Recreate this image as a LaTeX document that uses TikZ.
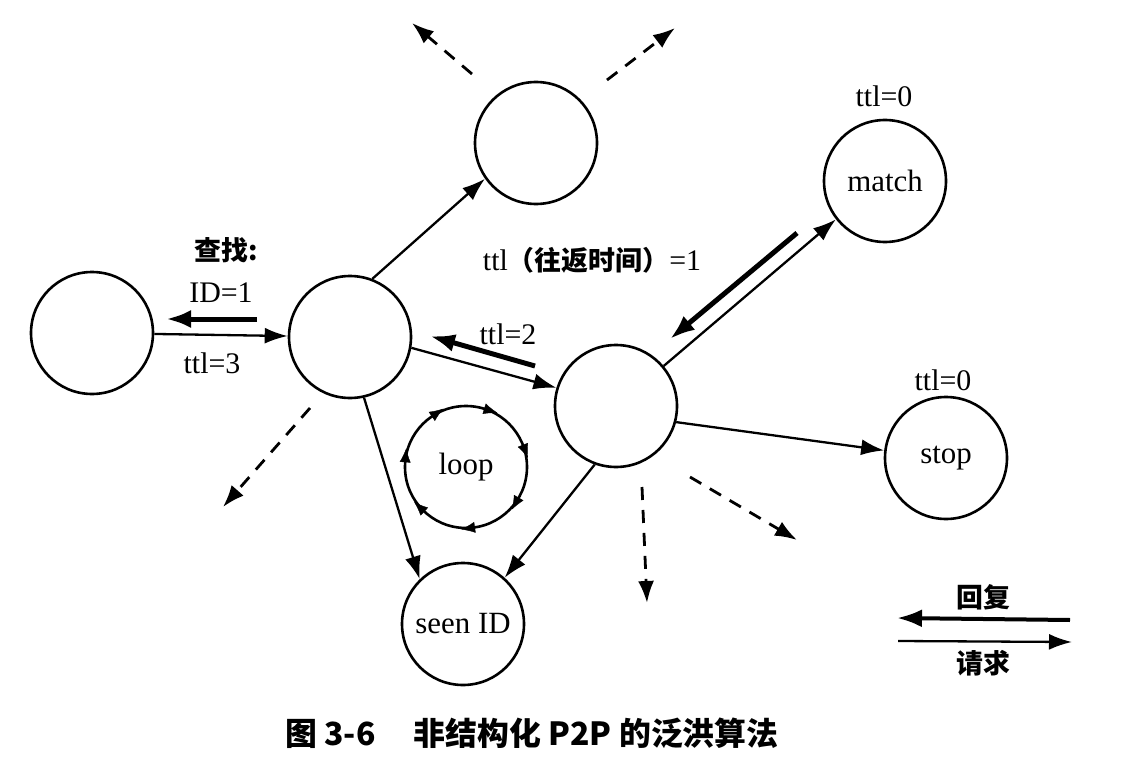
\documentclass[tikz,border=0pt]{standalone}
\usepackage{fontspec}
\setmainfont{Liberation Serif}
\newfontfamily\cjk{Noto Sans CJK SC}
\usetikzlibrary{arrows.meta,decorations.markings}
\tikzset{
  peer/.style={circle,draw,line width=2.6bp,minimum size=122bp,inner sep=0pt,font=\fontsize{31}{32}\selectfont},
  query/.style={-{Latex[length=23bp,width=16bp]},line width=2.3bp},
  reply/.style={-{Latex[length=25bp,width=18bp]},line width=5bp},
  flood/.style={-{Latex[length=22bp,width=16bp]},line width=2.8bp,dash pattern=on 13bp off 10bp},
  lbl/.style={font=\fontsize{30}{31}\selectfont,inner sep=0pt},
  zh/.style={font=\cjk\bfseries\fontsize{27}{28}\selectfont,inner sep=0pt},
}
\begin{document}
\begin{tikzpicture}[x=1bp,y=-1bp]
  \useasboundingbox (0,0) rectangle (1122,774);
%%
  % Node: origin
  \node[peer] (src) at (92,333) {};
  % Node: first hop
  \node[peer] (hopA) at (350,337) {};
  % Node: upper neighbour
  \node[peer] (up) at (536,143) {};
  % Node: second hop
  \node[peer] (hopB) at (616,406) {};
  % Node: match
  \node[peer] (match) at (885,181) {match};
  % Node: stop
  \node[peer] (stop) at (946,458) {stop};
  % Node: seen ID
  \node[peer] (seen) at (463,624) {seen ID};
  % Node: loop
  \node[peer] (loop) at (466,467) {loop};
  \path[postaction={decorate},decoration={markings,
    mark=between positions 0.059 and 0.95 step 0.142857 with {\arrow{Latex[reversed,length=14bp,width=11bp]}}}]
    (loop.center) circle[radius=61bp];
%%
  % Edge: src -> hopA
  \draw[query] (src) -- (hopA);
  % Edge: hopA -> up
  \draw[query] (hopA.69) -- (up.215);
  % Edge: hopA -> hopB
  \draw[query] (hopA.350) -- (hopB.163);
  % Edge: hopA -> seen
  \draw[query] (hopA.283) -- (seen.134);
  % Edge: hopB -> seen
  \draw[query] (hopB.250) -- (seen.48);
  % Edge: hopB -> match
  \draw[query] (hopB.40) -- (match.218);
  % Edge: hopB -> stop
  \draw[query] (hopB.345) -- (stop.173);
%%
  % replies
  \coordinate (r1s) at (257,319);
  \coordinate (r1e) at (166,319);
  \draw[reply] (r1s) -- (r1e);
  \coordinate (r2s) at (535,366);
  \coordinate (r2e) at (430,336);
  \draw[reply] (r2s) -- (r2e);
  \coordinate (r3s) at (797,233);
  \coordinate (r3e) at (670,339);
  \draw[reply] (r3s) -- (r3e);
%%
  % flooding on
  \coordinate (f1s) at (472,74);   \coordinate (f1e) at (412,23);
  \coordinate (f2s) at (607,80);   \coordinate (f2e) at (675,28);
  \coordinate (f3s) at (310,408);  \coordinate (f3e) at (223,507);
  \coordinate (f4s) at (642,487);  \coordinate (f4e) at (647,603);
  \coordinate (f5s) at (690,477);  \coordinate (f5e) at (797,540);
  \foreach \k in {1,...,5}
    \draw[flood] (f\k s) -- (f\k e);
%%
  % labels
  \node[zh] (lookup) at (226,250) {查找:};
  \node[lbl] (idlbl) at (221,293) {ID=1};
  \node[lbl] (ttl3) at (212,363) {ttl=3};
  \node[lbl] (ttl2) at (508,334) {ttl=2};
  \node[lbl] (ttl1) at (592,260) {ttl{\cjk\bfseries\fontsize{27}{28}\selectfont （往返时间）}=1};
  \node[lbl] (ttl0a) at (884,96) {ttl=0};
  \node[lbl] (ttl0b) at (943,380) {ttl=0};
%%
  % legend
  \coordinate (lg1s) at (1070,620);  \coordinate (lg1e) at (897,618);
  \coordinate (lg2s) at (898,641);   \coordinate (lg2e) at (1072,642);
  \draw[reply,line width=4bp] (lg1s) -- (lg1e);
  \draw[query] (lg2s) -- (lg2e);
  \node[zh] (replylbl) at (983,597) {回复};
  \node[zh] (querylbl) at (983,663) {请求};
%%
  % caption
  \node[zh,font=\cjk\bfseries\fontsize{32}{34}\selectfont] (caption) at (532,733) {图 3-6\hspace{1.2em}非结构化 P2P 的泛洪算法};
%
\end{tikzpicture}
\end{document}
